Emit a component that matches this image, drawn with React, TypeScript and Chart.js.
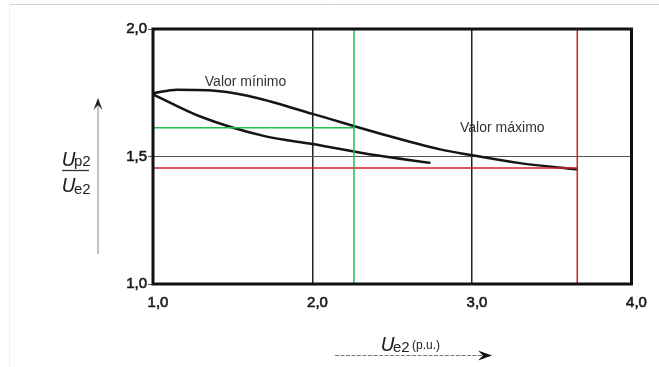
import { useEffect, useRef } from "react";
import { Chart, registerables } from "chart.js";
Chart.register(...registerables);

// Curves
const upperX = [1.0, 1.15, 1.35, 1.6, 2.0, 2.4, 2.8, 3.0, 3.3, 3.66];
const upperY = [1.748, 1.762, 1.760, 1.737, 1.667, 1.594, 1.528, 1.505, 1.474, 1.449];
const lowerX = [1.0, 1.3, 1.7, 2.0, 2.4, 2.74];
const lowerY = [1.744, 1.656, 1.58, 1.549, 1.505, 1.475];

// Reference lines
const greenX = 2.26;
const greenY = 1.613;
const redX = 3.66;
const redY = 1.455;

const xMin = 1, xMax = 4, yMin = 1, yMax = 2;
const xStep = 1, yStep = 0.5;

const labelMin = { text: "Valor mínimo", x: 1.58, y: 1.79 };
const labelMax = { text: "Valor máximo", x: 3.19, y: 1.61 };

const fmt = (v: number) => v.toFixed(1).replace(".", ",");

const pts = (xs: number[], ys: number[]) => xs.map((x, i) => ({ x, y: ys[i] }));

const decorPlugin = {
  id: "decor",
  beforeDraw(chart: any) {
    const ctx = chart.ctx;
    ctx.save();
    ctx.fillStyle = "#fff";
    ctx.fillRect(0, 0, chart.width, chart.height);
    ctx.strokeStyle = "#d0d0d0";
    ctx.lineWidth = 1;
    ctx.beginPath();
    ctx.moveTo(10, 4.5);
    ctx.lineTo(chart.width, 4.5);
    ctx.stroke();
    ctx.strokeStyle = "#efefef";
    ctx.beginPath();
    ctx.moveTo(9.5, 4.5);
    ctx.lineTo(9.5, chart.height);
    ctx.stroke();
    ctx.restore();
  },
  afterDraw(chart: any) {
    const ctx = chart.ctx;
    const a = chart.chartArea;
    const xs = chart.scales.x;
    const ys = chart.scales.y;
    ctx.save();
    // frame
    ctx.strokeStyle = "#111";
    ctx.lineWidth = 3;
    ctx.strokeRect(a.left, a.top, a.right - a.left, a.bottom - a.top);

    // annotations
    ctx.fillStyle = "#333";
    ctx.font = "14px 'Liberation Sans', Arial, sans-serif";
    ctx.textAlign = "center";
    ctx.textBaseline = "middle";
    for (const l of [labelMin, labelMax]) {
      ctx.fillText(l.text, xs.getPixelForValue(l.x), ys.getPixelForValue(l.y));
    }

    // y title: fraction
    ctx.fillStyle = "#222";
    ctx.textAlign = "left";
    ctx.textBaseline = "alphabetic";
    ctx.font = "italic 19px 'DejaVu Sans', sans-serif";
    ctx.fillText("U", 62, 166);
    ctx.fillText("U", 62, 192);
    ctx.font = "15px 'Liberation Sans', Arial, sans-serif";
    ctx.fillText("p2", 74, 166);
    ctx.fillText("e2", 74, 194);
    ctx.strokeStyle = "#333";
    ctx.lineWidth = 1.3;
    ctx.beginPath();
    ctx.moveTo(62, 170.5);
    ctx.lineTo(89, 170.5);
    ctx.stroke();

    // y arrow
    ctx.strokeStyle = "#999";
    ctx.lineWidth = 1.2;
    ctx.beginPath();
    ctx.moveTo(98, 254);
    ctx.lineTo(98, 102);
    ctx.stroke();
    ctx.fillStyle = "#222";
    ctx.beginPath();
    ctx.moveTo(98, 98);
    ctx.lineTo(102.5, 110);
    ctx.lineTo(98, 105);
    ctx.lineTo(93.5, 110);
    ctx.closePath();
    ctx.fill();

    // x title
    ctx.fillStyle = "#222";
    ctx.font = "italic 19px 'DejaVu Sans', sans-serif";
    ctx.fillText("U", 381, 351);
    ctx.font = "15px 'Liberation Sans', Arial, sans-serif";
    ctx.fillText("e2", 393, 352);
    ctx.font = "12px 'Liberation Sans', Arial, sans-serif";
    ctx.fillText("(p.u.)", 412, 349);

    // x arrow
    ctx.strokeStyle = "#777";
    ctx.lineWidth = 1.2;
    ctx.setLineDash([4, 1.5]);
    ctx.beginPath();
    ctx.moveTo(335, 355.5);
    ctx.lineTo(486, 355.5);
    ctx.stroke();
    ctx.setLineDash([]);
    ctx.fillStyle = "#111";
    ctx.beginPath();
    ctx.moveTo(492, 355.5);
    ctx.lineTo(478, 350.5);
    ctx.lineTo(483, 355.5);
    ctx.lineTo(478, 360.5);
    ctx.closePath();
    ctx.fill();
    ctx.restore();
  },
};

export default function App() {
  const ref = useRef<HTMLCanvasElement | null>(null);
  useEffect(() => {
    if (!ref.current) return;
    const green = "#1fbf4f";
    const red = "#d41f1f";
    const tickFont = { family: "'Liberation Sans', Arial, sans-serif", size: 15 };
    const chart = new Chart(ref.current, {
      type: "line",
      data: {
        datasets: [
          { data: pts([1, greenX], [greenY, greenY]), borderColor: green, borderWidth: 1.5 },
          { data: pts([greenX, greenX], [yMin, yMax]), borderColor: green, borderWidth: 1.5 },
          { data: pts([1, redX], [redY, redY]), borderColor: red, borderWidth: 1.5 },
          { data: pts([redX, redX], [yMin, yMax]), borderColor: red, borderWidth: 1.5 },
          { data: pts(upperX, upperY), borderColor: "#151515", borderWidth: 2.5, cubicInterpolationMode: "monotone" },
          { data: pts(lowerX, lowerY), borderColor: "#151515", borderWidth: 2.5, cubicInterpolationMode: "monotone" },
        ] as any,
      },
      options: {
        animation: false,
        responsive: false,
        events: [],
        elements: { point: { radius: 0 }, line: { tension: 0.4 } },
        layout: { padding: { left: 0, right: 27.5, top: 29, bottom: 0 } },
        plugins: { legend: { display: false }, tooltip: { enabled: false } },
        scales: {
          x: {
            type: "linear",
            min: xMin,
            max: xMax,
            afterFit: (s: any) => { s.height = 83; },
            border: { display: false },
            grid: { color: "#222", lineWidth: 1.5, drawTicks: false },
            ticks: {
              stepSize: xStep,
              padding: 10,
              labelOffset: 5,
              color: "#1a1a1a",
              textStrokeColor: "#1a1a1a",
              textStrokeWidth: 0.6,
              font: tickFont,
              callback: (v: any) => fmt(Number(v)),
            },
          },
          y: {
            type: "linear",
            min: yMin,
            max: yMax,
            afterFit: (s: any) => { s.width = 153; },
            border: { display: false },
            grid: { color: "#555", lineWidth: 1, tickLength: 5 },
            ticks: {
              stepSize: yStep,
              padding: 1,
              color: "#1a1a1a",
              textStrokeColor: "#1a1a1a",
              textStrokeWidth: 0.6,
              font: tickFont,
              callback: (v: any) => fmt(Number(v)),
            },
          },
        },
      } as any,
      plugins: [decorPlugin],
    });
    return () => chart.destroy();
  }, []);
  return (
    <div style={{ position: "absolute", left: 0, top: 0, width: 659, height: 367 }}>
      <canvas ref={ref} width={659} height={367} />
    </div>
  );
}
